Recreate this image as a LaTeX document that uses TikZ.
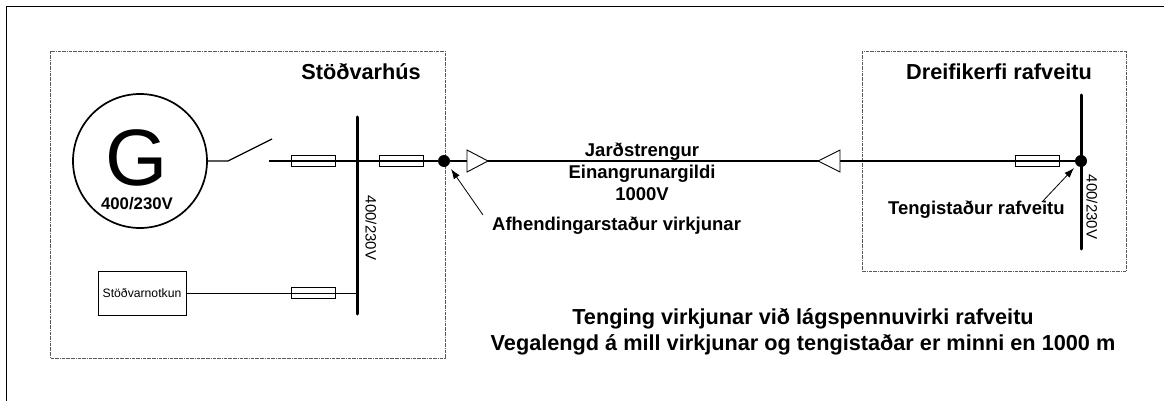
\documentclass[tikz,border=0pt]{standalone}
\usepackage{fontspec}
\usetikzlibrary{arrows.meta}
\setmainfont{Liberation Sans}
\tikzset{
    box/.style={draw, densely dashdotted, gray!70!black, line width=0.7pt},
    wire/.style={line width=1.3pt},
    bus/.style={line width=3pt, line cap=round},
    fuse/.style={draw, minimum width=44pt, minimum height=11pt, inner sep=0pt, line width=0.9pt},
    joint/.style={circle, fill=black, minimum size=12pt, inner sep=0pt},
    cablehead/.style={draw, fill=white, line width=0.9pt},
    title/.style={font=\fontsize{21.7}{26}\selectfont\bfseries, align=center},
    label/.style={font=\fontsize{18.5}{22}\selectfont\bfseries, align=center},
    rating/.style={font=\fontsize{15}{18}\selectfont, rotate=-90},
    pointer/.style={-{Latex[length=10pt, width=7pt]}, line width=0.8pt},
}
\begin{document}
\begin{tikzpicture}[x=1pt, y=-1pt]
        \def\fusenode(#1)#2#3{node[fuse] (#1) at (#2, #3) {}}
        \useasboundingbox (0, 0) rectangle (1164, 401);

        \draw[line width=0.9pt] (6, 401) -- (6, 6) -- (1164, 6);
        \draw[box] (50, 51) rectangle (445, 358);
        \draw[box] (862, 51) rectangle (1126, 271);

        \node[title] (powerhouse) at (361, 72) {Stöðvarhús};
        \node[title] (grid) at (999, 72) {Dreifikerfi rafveitu};

        % generator and switch
        \node[circle, draw, line width=1.7pt, minimum size=134pt, inner sep=0pt] (gen) at (140, 161) {};
        \node[inner sep=0pt, text height=58pt, text depth=0pt, font=\fontsize{80}{80}\selectfont] (gname) at (137, 156.5) {G};
        \node[inner sep=0pt, font=\fontsize{16.8}{20}\selectfont\bfseries] (gvolt) at (137, 204) {400/230V};
        \coordinate (swa) at (228, 161);
        \coordinate (swb) at (272, 139);
        \coordinate (swc) at (269, 161);
        \draw[wire] (gen.east) -- (swa) -- (swb);

        % bars
        \coordinate (bustop) at (357, 117);
        \coordinate (busbot) at (357, 314);
        \coordinate (bartop) at (1081, 95);
        \coordinate (barbot) at (1081, 249);
        \coordinate (busmid) at (357, 161);
        \coordinate (buslow) at (357, 293);
        \draw[bus] (bustop) -- (busbot);
        \draw[bus] (bartop) -- (barbot);
        \node[rating] (busvolt) at (371, 228) {400/230V};
        \node[rating] (barvolt) at (1092, 207) {400/230V};

        % points of delivery and connection
        \node[joint] (delivery) at (444, 161) {};
        \node[joint] (connect) at (1081, 161) {};

        % cable
        \draw[wire] (swc) -- (busmid) -- (delivery) -- (connect);
        \path[cablehead] (467, 150) -- (488, 161) -- (467, 172) -- cycle;
        \path[cablehead] (840, 150) -- (818, 161) -- (840, 172) -- cycle;
        \node[label] (cable) at (642, 172) {Jarðstrengur\\Einangrunargildi\\1000V};

        % own use
        \node[draw, line width=0.9pt, minimum width=88pt, minimum height=44pt, inner sep=0pt, font=\fontsize{12.2}{14}\selectfont] (ownuse) at (142, 293) {Stöðvarnotkun};
        \draw[wire, line width=1pt] (ownuse) -- (buslow);

        \path \fusenode(fa){313}{161}
              \fusenode(fb){401}{161}
              \fusenode(fc){313}{293}
              \fusenode(fd){1037}{161};

        % arrows
        \node[label, anchor=west, inner sep=0pt] (afhend) at (492, 226) {Afhendingarstaður virkjunar};
        \node[label, anchor=west, inner sep=0pt] (tengi) at (888, 210) {Tengistaður rafveitu};
        \coordinate (afoot) at (483, 215);
        \coordinate (ahead) at (451, 169);
        \coordinate (tfoot) at (1042, 202);
        \coordinate (thead) at (1074, 168);
        \draw[pointer] (afoot) -- (ahead);
        \draw[pointer] (tfoot) -- (thead);

        \node[font=\fontsize{21.7}{26}\selectfont\bfseries, align=center] (caption) at (803, 332) {Tenging virkjunar við lágspennuvirki rafveitu\\Vegalengd á mill virkjunar og tengistaðar er minni en 1000 m};
\end{tikzpicture}
\end{document}
